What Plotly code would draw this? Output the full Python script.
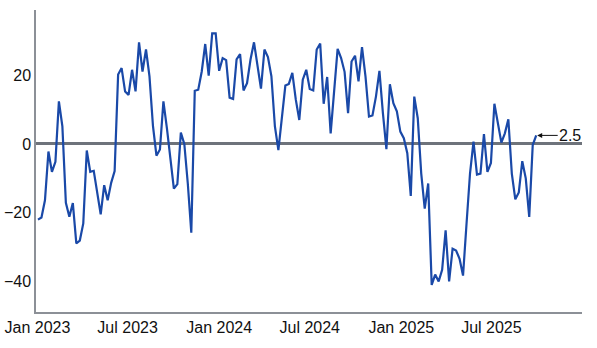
import pandas as pd
import plotly.graph_objects as go

start_date = "2023-01-02"
values = [
    -22, -21.4, -16.4, -2.2, -8.1, -5.2, 12.4, 5.1, -17.1, -21.2,
    -17.2, -28.9, -28.1, -23.1, -1.9, -8.1, -7.8, -14.4, -20.5, -12,
    -16.4, -11.3, -7.9, 20.2, 22.1, 15.3, 14.3, 21.6, 15.3, 29.6,
    21.1, 27.5, 19.7, 5.3, -3.4, -1.6, 12.4, 4.6, -3.7, -13,
    -11.7, 3.3, 0, -11.5, -25.8, 15.5, 15.8, 21.1, 29.1, 19.9,
    32.2, 32.2, 21.3, 25, 24.4, 13.5, 13.1, 24.6, 26.2, 15.6,
    17.7, 24.6, 29.6, 23.1, 16.1, 27.5, 25.3, 19.7, 5.1, -1.8,
    8, 17, 17.5, 20.7, 12.9, 7, 18.7, 21.6, 16, 15.6,
    27.5, 29.2, 11.7, 19.5, 3.1, 15, 27.7, 25, 21, 9,
    24, 25.7, 18.2, 28.2, 19.7, 8, 8.3, 13.8, 21.3, 9,
    -1.5, 17.4, 11.9, 9.5, 3.6, 1.7, -2.7, -15.1, 13.8, 7.5,
    -8.6, -18.8, -11.5, -41, -38, -40, -36.6, -25.1, -40, -30.5,
    -31, -33.4, -38.3, -23.2, -8.6, 0.7, -8.9, -8.6, 2.9, -8.1,
    -5.5, 11.7, 6, 0.4, 3.1, 7.2, -8.6, -16.1, -14.1, -5,
    -10, -21.2, -0.3, 2.5,
]
dates = pd.date_range(start_date, periods=len(values), freq="7D")
y_ticks = [-40, -20, 0, 20]
last_label = "2.5"

fig = go.Figure()
fig.add_trace(go.Scatter(
    x=dates, y=values, mode="lines",
    line=dict(color="#1a49a8", width=2.2),
    hoverinfo="skip", showlegend=False,
))
fig.add_annotation(
    x=dates[-1], y=values[-1], text=last_label,
    showarrow=True, arrowhead=2, arrowsize=1, arrowwidth=1,
    arrowcolor="#111111", ax=34, ay=0, standoff=1,
    font=dict(size=16, color="#111111", family="Liberation Sans, Arial, sans-serif"),
)
fig.update_layout(
    width=597, height=348,
    margin=dict(l=36, r=15, t=10, b=36),
    paper_bgcolor="white", plot_bgcolor="white",
    font=dict(family="Liberation Sans, Arial, sans-serif", size=16, color="#111111"),
    xaxis=dict(
        type="date",
        range=["2022-12-29", "2025-12-30"],
        tickformat="%b %Y", dtick="M6", tick0="2023-01-01",
        showgrid=False, zeroline=False,
        showline=True, linecolor="#8c9097", linewidth=1.5,
        ticks="", tickfont=dict(size=16), automargin=False,
    ),
    yaxis=dict(
        range=[-48.9, 39.0],
        tickvals=y_ticks,
        showgrid=False,
        zeroline=True, zerolinecolor="#6e737b", zerolinewidth=2.5,
        showline=True, linecolor="#8c9097", linewidth=1.5,
        ticks="", tickfont=dict(size=16), automargin=False,
    ),
)
fig.write_html("out.html")
